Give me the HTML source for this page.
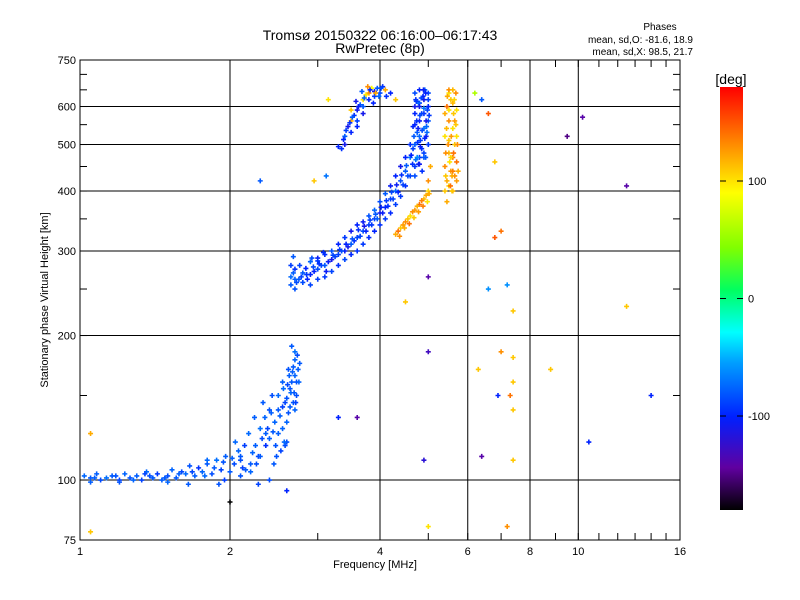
<!DOCTYPE html>
<html><head><meta charset="utf-8"><style>
html,body{margin:0;padding:0;background:#fff;}
svg{display:block;font-family:"Liberation Sans",sans-serif;}
</style></head><body>
<svg id="chart" width="800" height="600" viewBox="0 0 800 600">
<defs><linearGradient id="cb" x1="0" y1="1" x2="0" y2="0">
<stop offset="0" stop-color="#000000"/><stop offset="0.1" stop-color="#6000a0"/><stop offset="0.22" stop-color="#0020ff"/><stop offset="0.35" stop-color="#00a0ff"/><stop offset="0.42" stop-color="#00ffff"/><stop offset="0.52" stop-color="#00ff60"/><stop offset="0.62" stop-color="#80ff00"/><stop offset="0.75" stop-color="#ffff00"/><stop offset="0.86" stop-color="#ff9000"/><stop offset="1" stop-color="#ff0000"/>
</linearGradient></defs>
<text x="380" y="40" font-size="14" text-anchor="middle">Tromsø 20150322 06:16:00–06:17:43</text>
<text x="380" y="53" font-size="14" text-anchor="middle">RwPretec (8p)</text>
<text x="660" y="30" font-size="10" text-anchor="middle">Phases</text>
<text x="693" y="43" font-size="10" text-anchor="end">mean, sd,O: -81.6, 18.9</text>
<text x="693" y="55" font-size="10" text-anchor="end">mean, sd,X:  98.5, 21.7</text>
<g id="grid"></g>
<g id="marks"></g>
<rect x="80" y="60" width="600" height="480" fill="none" stroke="#000" stroke-width="1"/>
<g id="axes"></g>
<text x="375" y="568" font-size="11" text-anchor="middle">Frequency [MHz]</text>
<text transform="translate(48,300) rotate(-90)" font-size="11" text-anchor="middle">Stationary phase Virtual Height [km]</text>
<rect x="720" y="87" width="23" height="423" fill="url(#cb)"/>
<text x="731" y="84" font-size="14" text-anchor="middle">[deg]</text>
<g id="cbax"></g>
</svg>
<script>
const xTicks=[1,2,4,6,8,10,16];
const yTicks=[75,100,200,300,400,500,600,750];
const xGrid=[2,4,6,8,10];
const yGrid=[100,200,300,400,500,600];
const cbTicks=[100,0,-100];
// E-layer trace
const eF=[1.02,1.05,1.08,1.1,1.13,1.16,1.2,1.23,1.26,1.3,1.33,1.36,1.4,1.43,1.46,1.5,1.53,1.56,1.6,1.63,1.66,1.7,1.73,1.76,1.8,1.84,1.88,1.92,1.96,2.0,2.04,2.08,2.1,2.14,2.18,2.2,2.24,2.28,2.3,2.33,2.36,2.4,2.43,2.46,2.5,2.53,2.56,2.6,2.63,2.66,2.7,2.72,1.05,1.2,1.35,1.5,1.65,1.8,1.95,2.1,2.25,2.4,2.55,2.62,2.68,2.7,2.74,2.6,2.45,2.35,2.28,2.15,2.05,1.9,2.5,2.55,2.65,2.68,2.72,2.6,2.48,2.38,2.42,2.66,2.7,2.58];
const eH=[102,101,103,100,101,102,100,103,101,102,100,104,101,103,100,102,105,101,104,103,107,102,106,104,108,103,110,105,112,104,108,115,102,118,125,108,135,112,128,145,118,122,150,132,140,115,155,148,165,160,178,150,99,99,103,99,98,110,100,112,118,100,128,138,145,185,170,120,108,135,98,105,120,98,125,142,152,172,160,132,112,128,138,190,140,118];
const eP=[-75,-80,-78,-85,-72,-80,-90,-76,-82,-78,-88,-74,-80,-92,-78,-84,-76,-80,-86,-74,-82,-78,-95,-76,-80,-84,-72,-88,-78,-80,-85,-76,-82,-90,-74,-80,-78,-86,-72,-80,-95,-78,-84,-76,-80,-88,-74,-82,-78,-80,-76,-84,-78,-82,-88,-76,-80,-74,-90,-80,-78,-85,-76,-82,-80,-72,-78,-84,-80,-76,-88,-80,-75,-82,-78,-90,-74,-80,-84,-76,-82,-88,-78,-80,-76,-84];
// E-layer extra echoes
const e2F=[1.07,1.18,1.28,1.38,1.48,1.58,1.68,1.78,1.86,1.94,2.02,2.12,2.22,2.32,2.44,2.52,2.58,2.64,2.7,2.73,2.76,2.67,2.61,2.5,2.4,2.3,2.2,2.1,2.55,2.62,2.69,2.75,2.71,2.64,2.57,2.47,2.36,2.26];
const e2H=[101,102,100,102,101,103,104,102,106,109,111,106,114,122,126,136,145,155,165,182,175,168,158,150,140,112,104,110,160,170,152,160,145,142,120,118,125,108];
const e2P=[-78,-82,-76,-84,-80,-78,-86,-74,-80,-82,-78,-90,-76,-84,-80,-78,-88,-82,-76,-84,-80,-78,-86,-74,-82,-80,-76,-84,-78,-82,-80,-76,-88,-80,-74,-82,-78,-84];
// F-layer O trace
const oF=[2.65,2.65,2.65,2.7,2.7,2.7,2.8,2.8,2.9,2.9,2.9,3.0,3.0,3.0,3.1,3.1,3.1,3.2,3.2,3.2,3.3,3.3,3.3,3.4,3.4,3.4,3.5,3.5,3.5,3.6,3.6,3.6,3.7,3.7,3.7,3.8,3.8,3.8,3.9,3.9,3.9,4.0,4.0,4.0,4.1,4.1,4.1,4.2,4.2,4.2,4.3,4.3,4.3,4.4,4.4,4.4,4.5,4.5,4.5,4.6,4.6,4.6,4.7,4.7,4.7,4.7,4.7,4.8,4.8,4.8,4.8,4.8,4.9,4.9,4.9,4.9,5.0,5.0,5.0,5.0,4.75,4.85,4.95,4.75,4.85,4.95,4.78,4.88,4.98,4.72,2.75,2.85,2.95,3.05,3.15,3.25,3.35,3.45,3.55,3.65,3.75,3.85,3.95,4.05,4.15,4.25,4.35,4.45,4.55,4.65,4.8,4.9,4.7,4.82,4.92,4.77];
const oH=[255,265,280,250,262,275,258,270,255,268,285,262,275,290,265,280,295,272,288,300,280,295,310,288,300,320,295,310,330,300,320,340,310,330,345,320,340,355,330,350,365,340,360,380,350,370,395,360,385,410,375,400,430,390,420,450,410,440,470,430,470,500,450,500,550,600,640,470,520,560,610,650,480,540,580,620,500,560,600,640,470,490,520,530,580,560,610,630,590,620,262,268,272,280,285,292,300,306,315,322,330,340,350,360,372,385,398,412,430,455,455,470,580,510,650,540];
const oP=[-80,-75,-90,-82,-78,-95,-85,-80,-88,-100,-76,-90,-84,-105,-92,-80,-96,-88,-110,-84,-95,-90,-100,-86,-105,-92,-98,-80,-110,-95,-88,-100,-92,-84,-105,-96,-90,-82,-100,-88,-75,-95,-110,-85,-92,-100,-80,-98,-88,-105,-90,-75,-100,-92,-84,-110,-95,-80,-100,-88,-70,-96,-92,-80,-100,-110,-85,-95,-75,-105,-90,-100,-88,-70,-96,-110,-92,-80,-100,-86,-60,-95,-105,-80,-90,-110,-75,-100,-88,-95,-80,-92,-100,-86,-105,-90,-84,-110,-95,-88,-100,-92,-80,-105,-96,-88,-100,-90,-85,-95,-110,-80,-100,-92,-75,-105];
// F-layer O trace extra echoes
const o2F=[2.68,2.72,2.78,2.86,2.94,3.02,3.12,3.22,3.32,3.42,3.52,3.62,3.72,3.82,3.92,4.02,4.12,4.22,4.32,4.42,4.52,4.62,4.66,4.72,4.76,4.82,4.86,4.92,4.96,5.02,4.68,4.74,4.8,4.84,4.9,4.94,5.0,4.7,4.78,4.86,4.94,4.66,4.73,4.81,4.89,4.97,2.68,2.76,2.84,2.92,3.0,3.08];
const o2H=[270,258,265,262,278,282,272,294,302,310,318,332,338,348,358,370,382,398,412,432,452,475,490,465,505,495,535,515,545,575,520,560,600,625,595,640,620,430,455,440,470,545,615,575,650,530,292,280,276,290,286,298];
const o2P=[-78,-84,-90,-100,-86,-95,-105,-88,-92,-100,-84,-96,-110,-90,-80,-100,-92,-86,-105,-95,-80,-100,-90,-70,-95,-105,-85,-100,-75,-92,-80,-96,-110,-88,-70,-100,-90,-84,-105,-95,-80,-100,-92,-86,-105,-75,-80,-88,-100,-84,-92,-96];
// F-layer X trace
const xF=[4.3,4.4,4.5,4.6,4.7,4.8,4.9,5.0,5.0,5.05,4.35,4.45,4.55,4.65,4.75,4.85,4.95,5.4,5.4,5.4,5.45,5.45,5.5,5.5,5.5,5.5,5.55,5.55,5.6,5.6,5.6,5.6,5.65,5.65,5.7,5.7,5.7,5.45,5.5,5.55,5.6,5.65,5.5,5.6,5.4,5.7];
const xH=[325,335,345,355,365,375,385,400,420,450,330,340,350,362,372,382,392,400,450,520,420,600,410,480,560,640,440,620,400,470,540,610,430,500,420,460,590,380,650,470,650,560,510,440,580,520];
const xP=[120,110,130,100,125,140,115,105,130,120,140,125,110,130,118,135,120,110,130,100,120,140,105,115,130,100,125,110,120,135,100,115,130,110,125,140,100,120,130,105,115,125,110,135,120,100];
// F-layer X trace extra echoes
const x2F=[4.38,4.48,4.58,4.68,4.78,4.88,4.98,5.02,5.42,5.48,5.52,5.58,5.62,5.68,5.72,5.44,5.5,5.56,5.62,5.68,5.46,5.54,5.64,5.74,5.42,5.58];
const x2H=[322,335,342,352,362,372,380,395,430,500,460,430,480,550,500,540,590,520,580,640,630,410,620,440,480,400];
const x2P=[130,120,140,110,125,135,100,120,110,130,100,120,140,110,130,115,100,125,110,130,120,140,105,120,130,110];
// Upper trace (multi-hop)
const uF=[3.3,3.35,3.4,3.4,3.5,3.5,3.6,3.6,3.7,3.7,3.8,3.8,3.9,3.9,4.0,4.1,4.2,4.3,3.55,3.65,3.75,3.45,3.6,3.85,3.95,4.05,3.7,3.5,3.15,3.12,2.95,3.42,3.52,3.62,3.72,3.82,3.92,4.02,4.12,3.58,3.68,3.78,3.88,3.98,3.48,3.38];
const uH=[495,490,500,520,530,560,560,590,600,620,620,640,630,645,640,650,640,620,575,605,635,545,545,655,655,660,580,590,620,430,420,535,570,600,625,650,640,655,630,615,645,660,610,630,555,512];
const uP=[-100,-95,-110,-80,-100,120,-90,-110,-80,100,-100,130,-90,-110,-85,120,-100,110,-95,-80,100,-110,-100,90,-80,-95,-110,110,100,-70,110,-90,-80,-105,-75,-100,120,-85,-95,-110,-80,130,-100,-75,-95,-100];
// Scattered echoes
const sF=[6.2,6.4,6.6,6.8,7.0,7.2,7.4,7.4,7.4,7.4,7.4,7.2,6.6,6.9,7.3,6.3,8.8,10.2,12.5,14.0,10.5,12.5,5.0,5.0,5.0,4.5,1.05,2.0,2.6,3.3,3.6,6.4,9.5,1.05,2.3,4.9,7.0,6.8];
const sH=[640,620,580,460,330,255,225,180,160,140,110,80,250,150,150,170,170,570,410,150,120,230,265,185,80,235,78,90,95,135,135,112,520,125,420,110,185,320];
const sP=[60,-80,150,110,140,-60,110,110,110,110,110,130,-60,-100,140,110,110,-140,-140,-100,-100,110,-140,-130,100,110,110,-180,-100,-100,-140,-140,-150,120,-80,-120,130,150];
function X(f){return 80+150*Math.log2(f);}
function Y(h){return 540-480*Math.log10(h/75);}
const stops=[[0,[0,0,0]],[0.1,[96,0,160]],[0.22,[0,32,255]],[0.35,[0,160,255]],[0.42,[0,255,255]],[0.52,[0,255,96]],[0.62,[128,255,0]],[0.75,[255,255,0]],[0.86,[255,144,0]],[1,[255,0,0]]];
function C(p){let t=(p+180)/360;t=Math.max(0,Math.min(1,t));for(let i=1;i<stops.length;i++){if(t<=stops[i][0]){const a=stops[i-1],b=stops[i];const u=(t-a[0])/(b[0]-a[0]);const c=a[1].map((v,k)=>Math.round(v+(b[1][k]-v)*u));return 'rgb('+c.join(',')+')';}}return 'rgb(255,0,0)';}
const NS='http://www.w3.org/2000/svg';
function mk(tag,attrs,parent){const e=document.createElementNS(NS,tag);for(const k in attrs)e.setAttribute(k,attrs[k]);parent.appendChild(e);return e;}
const grid=document.getElementById('grid'),axes=document.getElementById('axes'),marks=document.getElementById('marks'),cbax=document.getElementById('cbax');
xGrid.forEach(v=>{const l=mk('line',{x1:X(v),x2:X(v),y1:60,y2:540,stroke:'#000','stroke-width':1},grid);

});
yGrid.forEach(v=>{const l=mk('line',{x1:80,x2:680,y1:Y(v),y2:Y(v),stroke:'#000','stroke-width':1},grid);

});
for(let f=1;f<=16;f++){[[540,-7],[60,7]].forEach(([y0,d])=>{const l=mk('line',{x1:X(f),x2:X(f),y1:y0,y2:y0+d,stroke:'#000'},axes);

});}
for(let h=100;h<=700;h+=50){[[80,7],[680,-7]].forEach(([x0,d])=>{const l=mk('line',{x1:x0,x2:x0+d,y1:Y(h),y2:Y(h),stroke:'#000'},axes);

});}
xTicks.forEach(v=>{const t=mk('text',{x:X(v),y:555,'font-size':11,'text-anchor':'middle'},axes);t.textContent=v;

});
yTicks.forEach(v=>{const t=mk('text',{x:76,y:Y(v)+4,'font-size':11,'text-anchor':'end'},axes);t.textContent=v;

});
function cbY(p){return 510-423*(p+180)/360;}
cbTicks.forEach(v=>{const y=cbY(v);mk('line',{x1:720,x2:726,y1:y,y2:y,stroke:'#000'},cbax);mk('line',{x1:743,x2:737,y1:y,y2:y,stroke:'#000'},cbax);
const t=mk('text',{x:748,y:y+4,'font-size':11},cbax);t.textContent=v;

});
function plot(F,H,P,name){for(let i=0;i<F.length;i++){const x=X(F[i]),y=Y(H[i]);
const p=mk('path',{d:`M${x-2.5},${y}h5M${x},${y-2.5}v5`,stroke:C(P[i]),'stroke-width':1.6},marks);

}}
plot(eF,eH,eP,'e-layer-point');
plot(e2F,e2H,e2P,'e-layer-point');
plot(oF,oH,oP,'f-o-trace-point');
plot(o2F,o2H,o2P,'f-o-trace-point');
plot(xF,xH,xP,'f-x-trace-point');
plot(x2F,x2H,x2P,'f-x-trace-point');
plot(uF,uH,uP,'upper-trace-point');
plot(sF,sH,sP,'scattered-point');
</script>
</body></html>
